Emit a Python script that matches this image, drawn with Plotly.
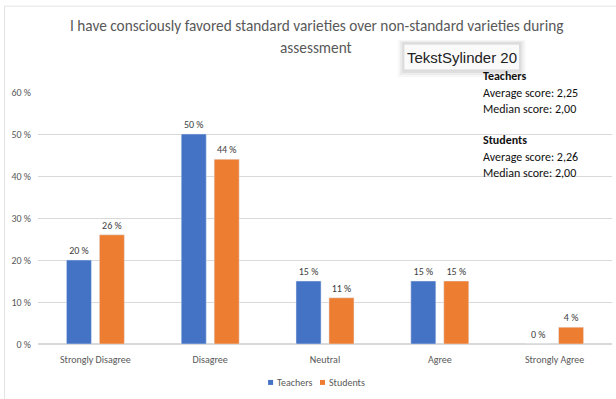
import plotly.graph_objects as go

# Survey responses (% of respondents)
categories = ["Strongly Disagree", "Disagree", "Neutral", "Agree", "Strongly Agree"]
teachers = [20, 50, 15, 15, 0]
students = [26, 44, 11, 15, 4]
y_ticks = [0, 10, 20, 30, 40, 50, 60]
y_tick_labels = [f"{v} %" for v in y_ticks]
series_names = ["Teachers", "Students"]

title_lines = [
    "I have consciously favored standard varieties over non-standard varieties during",
    "assessment",
]
summary_lines = [
    ("<b>Teachers</b>", 76),
    ("Average score: 2,25", 93),
    ("Median score: 2,00", 109),
    ("<b>Students</b>", 140),
    ("Average score: 2,26", 157),
    ("Median score: 2,00", 173),
]

W, H = 616, 399
L, R, T, B = 37.5, 3.5, 92, 54.5
pw, ph = W - L - R, H - T - B

def px_x(x):
    return (x - L) / pw

def px_y(y):
    return (H - B - y) / ph

FONT = "Liberation Sans Narrow, Carlito, Roboto, sans-serif"
BLUE = "#4472C4"
ORANGE = "#ED7D31"
colors = [BLUE, ORANGE]

fig = go.Figure()
for name, vals, col in zip(series_names, [teachers, students], colors):
    fig.add_trace(go.Bar(
        name=name, x=categories, y=vals, marker=dict(color=col),
        text=[f"{v} %" for v in vals], textposition="outside",
        textfont=dict(size=10, color="#404040", family=FONT), cliponaxis=False,
        showlegend=False,
    ))

annotations = []
for i, line in enumerate(title_lines):
    annotations.append(dict(
        text=line, xref="paper", yref="paper", x=px_x(316), y=px_y(25 + 22 * i),
        xanchor="center", yanchor="middle", showarrow=False,
        font=dict(size=15.3, color="#595959", family=FONT),
    ))
for text, yy in summary_lines:
    annotations.append(dict(
        text=text, xref="paper", yref="paper", x=px_x(481), y=px_y(yy),
        xanchor="left", yanchor="middle", showarrow=False,
        font=dict(size=12, color="#111111", family=FONT),
    ))
annotations.append(dict(
    text="TekstSylinder 20", xref="paper", yref="paper", x=px_x(462), y=px_y(57),
    xanchor="center", yanchor="middle", showarrow=False,
    font=dict(size=15, color="#222222", family="Liberation Sans, Arial, sans-serif"),
))

shapes = [
    # chart frame
    dict(type="line", xref="paper", yref="paper", x0=px_x(4), x1=px_x(W + 5),
         y0=px_y(6), y1=px_y(6), line=dict(color="#e3e3e3", width=1)),
    dict(type="line", xref="paper", yref="paper", x0=px_x(4), x1=px_x(4),
         y0=px_y(6), y1=px_y(H + 5), line=dict(color="#e3e3e3", width=1)),
]

# legend: small colour squares with labels
legend_x = [268, 320]
for name, col, lx in zip(series_names, colors, legend_x):
    shapes.append(dict(type="rect", xref="paper", yref="paper",
                       x0=px_x(lx), x1=px_x(lx + 5), y0=px_y(385.5), y1=px_y(380.5),
                       line=dict(width=0), fillcolor=col))
    annotations.append(dict(
        text=name, xref="paper", yref="paper", x=px_x(lx + 7), y=px_y(383),
        xanchor="left", yanchor="middle", showarrow=False,
        font=dict(size=10, color="#595959", family=FONT),
    ))

# soft shadow behind the text-box tag
for k, a in [(6, 0.03), (4, 0.04), (2, 0.06)]:
    shapes.append(dict(type="rect", xref="paper", yref="paper",
                       x0=px_x(404 - k), x1=px_x(520 + k), y0=px_y(71 + k), y1=px_y(43 - k / 2),
                       line=dict(width=0), fillcolor=f"rgba(0,0,0,{a})", layer="above"))
shapes.append(dict(type="rect", xref="paper", yref="paper",
                   x0=px_x(404), x1=px_x(520), y0=px_y(70), y1=px_y(44),
                   line=dict(color="#d8d8d8", width=1), fillcolor="#fafafa", layer="above"))

fig.update_layout(
    width=W, height=H,
    margin=dict(l=L, r=R, t=T, b=B),
    paper_bgcolor="white", plot_bgcolor="white",
    barmode="group", bargap=0.426, bargroupgap=0.24,
    font=dict(family=FONT, size=10, color="#595959"),
    showlegend=False,
    xaxis=dict(showgrid=False, showline=False, ticks="", zeroline=False,
               ticklabelstandoff=8,
               tickfont=dict(size=10, color="#595959", family=FONT), fixedrange=True),
    yaxis=dict(range=[0, 60], tickvals=y_ticks, ticktext=y_tick_labels, showgrid=True,
               gridcolor="#d9d9d9", gridwidth=1, zeroline=True, zerolinecolor="#d9d9d9",
               showline=False, ticks="", ticklabelstandoff=6,
               tickfont=dict(size=10, color="#595959", family=FONT)),
    annotations=annotations,
    shapes=shapes,
)

fig.write_html("out.html")
